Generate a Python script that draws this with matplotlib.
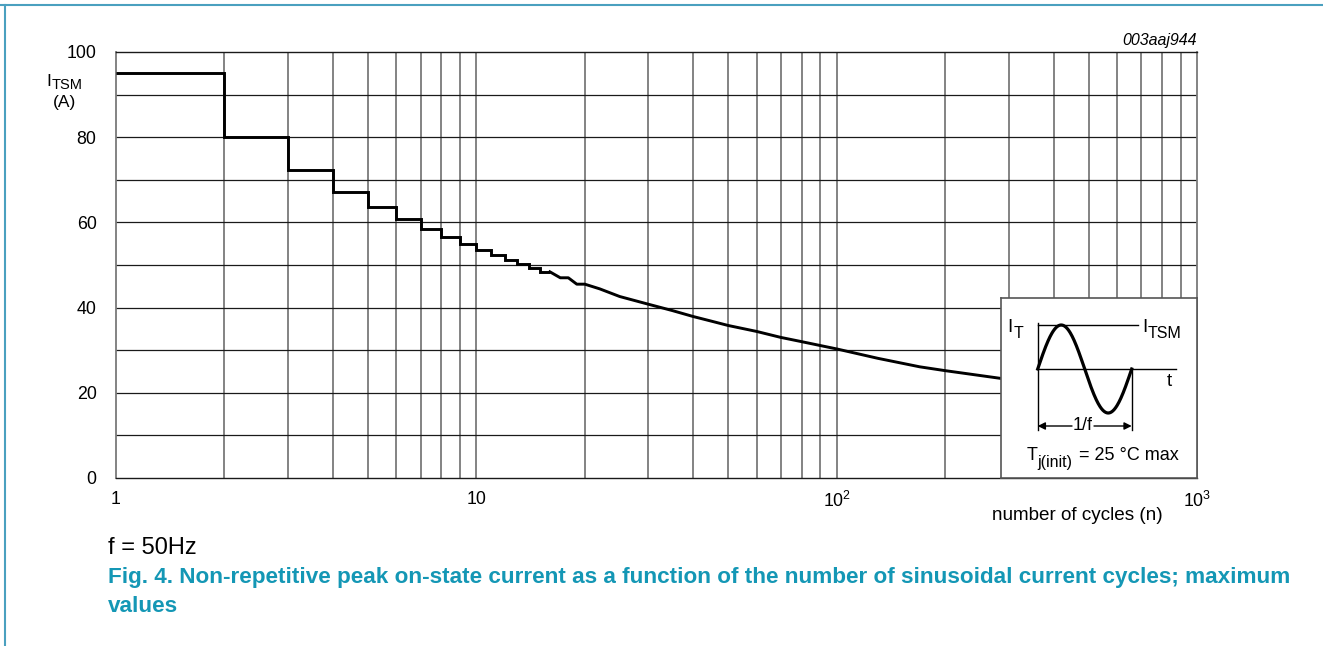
import numpy as np
import matplotlib
matplotlib.use("Agg")
import matplotlib.pyplot as plt
from matplotlib.lines import Line2D
from matplotlib.ticker import FixedLocator, FixedFormatter, NullFormatter

plt.rcParams['font.family'] = ['Liberation Sans', 'DejaVu Sans']
plt.rcParams['mathtext.fontset'] = 'custom'
plt.rcParams['mathtext.rm'] = 'Liberation Sans'
plt.rcParams['mathtext.it'] = 'Liberation Sans:italic'

# ---- data ----
step_edges = [1, 2, 3, 4, 5, 6, 7, 8, 9, 10, 11, 12, 13, 14, 15, 16]
step_levels = [95.0, 80.0, 72.3, 67.1, 63.6, 60.7, 58.4, 56.6, 55.0, 53.5,
               52.3, 51.2, 50.2, 49.3, 48.4]
tail_cycles = [16, 17.1, 18, 19, 20, 22, 25, 30, 35, 40, 45, 50, 60, 70, 80,
               90, 100, 130, 170, 200, 290]
tail_current = [48.4, 47.0, 47.0, 45.5, 45.5, 44.4, 42.6, 40.8, 39.3, 37.9,
                36.8, 35.8, 34.4, 33.0, 32.0, 31.1, 30.3, 28.1, 26.1, 25.2, 23.3]
y_ticks = [0, 20, 40, 60, 80, 100]
y_tick_labels = ['0', '20', '40', '60', '80', '100']
x_ticks = [1, 10, 100, 1000]
x_tick_labels = ['1', '10', r'$\mathregular{10^2}$', r'$\mathregular{10^3}$']

W, H = 1323, 646
fig = plt.figure(figsize=(W / 100, H / 100), dpi=100)

def fx(px):
    return px / W

def fy(py):
    return 1 - py / H

L, R, T, B = 116, 1197, 52, 478
ax = fig.add_axes([fx(L), fy(B), fx(R) - fx(L), fy(T) - fy(B)])
ax.set_xscale('log')
ax.set_xlim(1, 1000)
ax.set_ylim(0, 100)

# grid
vgrid = [m * 10 ** d for d in range(3) for m in range(1, 10)][1:]
for v in vgrid:
    ax.axvline(v, color='#7a7a7a', lw=1.3, zorder=1)
for h in range(10, 100, 10):
    ax.axhline(h, color='#1a1a1a', lw=0.9, zorder=1)

ax.stairs(step_levels, step_edges, baseline=None, color='black', lw=2.1, zorder=3)
ax.plot(tail_cycles, tail_current, color='black', lw=2.1, zorder=3,
        solid_joinstyle='round')

ax.xaxis.set_major_locator(FixedLocator(x_ticks))
ax.xaxis.set_major_formatter(FixedFormatter(x_tick_labels))
ax.xaxis.set_minor_formatter(NullFormatter())
ax.yaxis.set_major_locator(FixedLocator(y_ticks))
ax.yaxis.set_major_formatter(FixedFormatter(y_tick_labels))
ax.tick_params(which='both', length=0, labelsize=12.8, colors='black')
ax.tick_params(axis='x', pad=9)
ax.tick_params(axis='y', pad=14)
for s in ['left', 'right']:
    ax.spines[s].set_color('#7a7a7a')
    ax.spines[s].set_linewidth(1.3)
for s in ['top', 'bottom']:
    ax.spines[s].set_color('#1a1a1a')
    ax.spines[s].set_linewidth(1.0)

# labels
fig.text(fx(46), fy(82), 'I', fontsize=12.5, ha='left', va='center')
fig.text(fx(52), fy(85), 'TSM', fontsize=10.5, ha='left', va='center')
fig.text(fx(64), fy(103), '(A)', fontsize=12.5, ha='center', va='center')
fig.text(fx(1163), fy(516), 'number of cycles (n)', fontsize=13.6, ha='right', va='center')
fig.text(fx(1197), fy(40), '003aaj944', fontsize=11.5, style='italic', ha='right', va='center')
fig.text(fx(108), fy(548), 'f = 50Hz', fontsize=17, ha='left', va='center')
cap_color = '#1497b5'
fig.text(fx(108), fy(578), 'Fig. 4. Non-repetitive peak on-state current as a function of the number '
         'of sinusoidal current cycles; maximum', fontsize=16.2, fontweight='bold',
         color=cap_color, ha='left', va='center')
fig.text(fx(108), fy(606), 'values', fontsize=16.2, fontweight='bold',
         color=cap_color, ha='left', va='center')

# frame lines
frame_color = '#4aa0bf'
fig.add_artist(Line2D([0, 1], [fy(5), fy(5)], color=frame_color, lw=1.5))
fig.add_artist(Line2D([fx(5), fx(5)], [0, fy(5)], color=frame_color, lw=1.5))

# inset (coordinates in pixels relative to the inset box, y up)
IL, IR, IT, IB = 1001, 1197, 298, 478
axi = fig.add_axes([fx(IL), fy(IB), fx(IR) - fx(IL), fy(IT) - fy(IB)], zorder=5)
axi.set_xlim(0, IR - IL)
axi.set_ylim(0, IB - IT)
axi.set_xticks([])
axi.set_yticks([])
axi.set_facecolor('white')
for s in axi.spines.values():
    s.set_color('#555555')
    s.set_linewidth(1.2)

def iy(py):
    return IB - py

def ix(px):
    return px - IL

x0, x1, yb, amp = 36.7, 130.7, 109, 44
t = np.linspace(0, 1, 200)
axi.plot(x0 + (x1 - x0) * t, yb + amp * np.sin(2 * np.pi * t), color='black', lw=2.3)
axi.plot([x0, 136.7], [yb + amp, yb + amp], color='black', lw=1.0)
axi.plot([x0, 174.7], [yb, yb], color='black', lw=1.0)
axi.plot([x0, x0], [yb + amp + 2, 48], color='black', lw=1.0)
axi.plot([x1, x1], [yb, 48], color='black', lw=1.0)
axi.annotate('', xy=(x0, 52), xytext=(ix(1072), 52),
             arrowprops=dict(arrowstyle='-|>', color='black', lw=1.0, mutation_scale=11,
                             shrinkA=0, shrinkB=0))
axi.annotate('', xy=(x1, 52), xytext=(ix(1094), 52),
             arrowprops=dict(arrowstyle='-|>', color='black', lw=1.0, mutation_scale=11,
                             shrinkA=0, shrinkB=0))
axi.text(ix(1083), 52, '1/f', fontsize=13, ha='center', va='center')
axi.text(ix(1007), iy(328), 'I', fontsize=13.5, ha='left', va='center')
axi.text(ix(1014), iy(333), 'T', fontsize=11.5, ha='left', va='center')
axi.text(ix(1142), iy(328), 'I', fontsize=13.5, ha='left', va='center')
axi.text(ix(1148), iy(333), 'TSM', fontsize=11.5, ha='left', va='center')
axi.text(ix(1169), iy(382), 't', fontsize=13.5, ha='center', va='center')
axi.text(ix(1027), iy(456), 'T', fontsize=13, ha='left', va='center')
axi.text(ix(1037), iy(463), 'j(init)', fontsize=11.5, ha='left', va='center')
axi.text(ix(1079), iy(456), '= 25 °C max', fontsize=13, ha='left', va='center')

fig.savefig('out.png', dpi=100)
